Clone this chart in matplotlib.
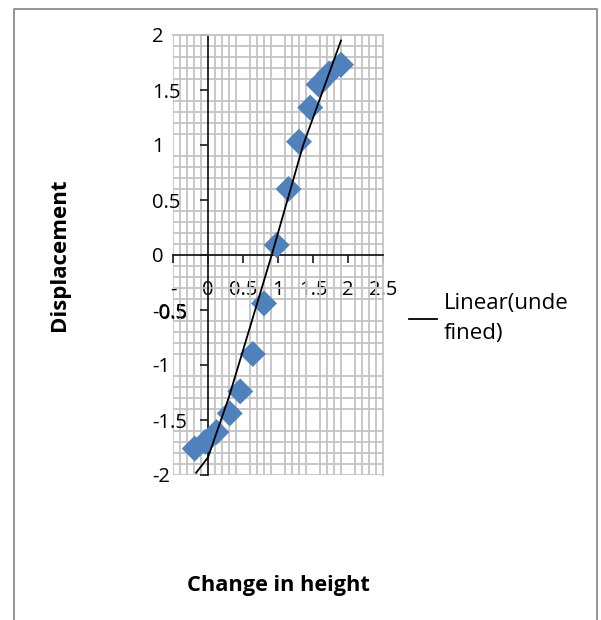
import matplotlib
matplotlib.use("Agg")
import matplotlib.pyplot as plt
from matplotlib.ticker import MultipleLocator, FixedLocator
from matplotlib.lines import Line2D

plt.rcParams['font.family'] = ['Open Sans', 'DejaVu Sans']

# Measured points
change_in_height = [-0.19, -0.04, 0.12, 0.31, 0.46, 0.64, 0.80, 0.98, 1.15, 1.30, 1.46, 1.58, 1.73, 1.90]
displacement = [-1.76, -1.70, -1.61, -1.44, -1.24, -0.90, -0.44, 0.09, 0.60, 1.03, 1.34, 1.55, 1.65, 1.73]

# Trend line vertices
trend_x = [-0.17, 0.00, 0.30, 0.91, 1.36, 1.90]
trend_y = [-1.98, -1.84, -1.29, 0.00, 1.00, 1.95]

x_ticks = [-0.5, 0, 0.5, 1, 1.5, 2, 2.5]
x_tick_labels = ["-\n0.5", "0", "0.5", "1", "1.5", "2", "2.5"]
y_ticks = [-2, -1.5, -1, -0.5, 0, 0.5, 1, 1.5, 2]
y_tick_labels = ["-2", "-1.5", "-1", "-0.5", "0", "0.5", "1", "1.5", "2"]

W, H = 601, 620
fig = plt.figure(figsize=(W / 100, H / 100), dpi=100)
fig.patch.set_facecolor("white")

# outer chart frame (open at the bottom)
frame_col = "#8c8c8c"
fig.add_artist(Line2D([14 / W, 14 / W, 597 / W, 597 / W],
                      [0, 1 - 9 / H, 1 - 9 / H, 0],
                      transform=fig.transFigure, color=frame_col, lw=1.3))

ax = fig.add_axes([173 / W, (H - 475) / H, 210 / W, 440 / H])
ax.set_xlim(-0.5, 2.5)
ax.set_ylim(-2, 2)

grid_col = "#c4c4c4"
ax.xaxis.set_major_locator(FixedLocator(x_ticks))
ax.yaxis.set_major_locator(FixedLocator(y_ticks))
ax.xaxis.set_minor_locator(MultipleLocator(0.1))
ax.yaxis.set_minor_locator(MultipleLocator(0.1))
ax.grid(which='minor', color=grid_col, lw=1.3)
ax.grid(which='major', visible=False)
ax.tick_params(which='minor', length=0)
ax.set_axisbelow(True)

# plot-area edges in grid colour
for s in ('top', 'right'):
    ax.spines[s].set_color(grid_col)
    ax.spines[s].set_linewidth(1.3)
ax.axvline(-0.5, color=grid_col, lw=1.3, zorder=0.5)
ax.axhline(-2, color=grid_col, lw=1.3, zorder=0.5)

# axes crossing at the origin
axis_col = "#1a1a1a"
ax.spines['left'].set_position(('data', 0))
ax.spines['bottom'].set_position(('data', 0))
ax.spines['left'].set_color(axis_col)
ax.spines['bottom'].set_color(axis_col)
ax.spines['left'].set_linewidth(1.3)
ax.spines['bottom'].set_linewidth(1.3)

ax.set_xticklabels(x_tick_labels, fontsize=14.5, linespacing=1.25)
ax.set_yticklabels(y_tick_labels, fontsize=14.5)
ax.tick_params(axis='x', which='major', direction='out', length=6, width=1.2,
               color=axis_col, pad=12)
ax.tick_params(axis='y', which='major', direction='out', length=6, width=1.2,
               color=axis_col, pad=34)
for lab in ax.get_yticklabels():
    lab.set_horizontalalignment('left')

ax.scatter(change_in_height, displacement, marker='D', s=175, color="#4f81bd",
           edgecolors='none', zorder=3, clip_on=False)
trend, = ax.plot(trend_x, trend_y, color="black", lw=1.3, zorder=4,
                 label="Linear(unde\nfined)")

leg = fig.legend(handles=[trend], loc='upper left',
                 bbox_to_anchor=(409 / W, 1 - 293 / H),
                 frameon=False, fontsize=16, handlelength=1.25, handletextpad=0.3,
                 borderaxespad=0, borderpad=0)
for t in leg.get_texts():
    t.set_linespacing(1.55)

fig.text(60 / W, 1 - 255 / H, "Displacement", rotation=90, fontsize=16,
         fontweight='bold', ha='center', va='center')
fig.text(278 / W, 1 - 585 / H, "Change in height", fontsize=15.7,
         fontweight='bold', ha='center', va='center')

fig.savefig("out.png", dpi=100, facecolor="white")
